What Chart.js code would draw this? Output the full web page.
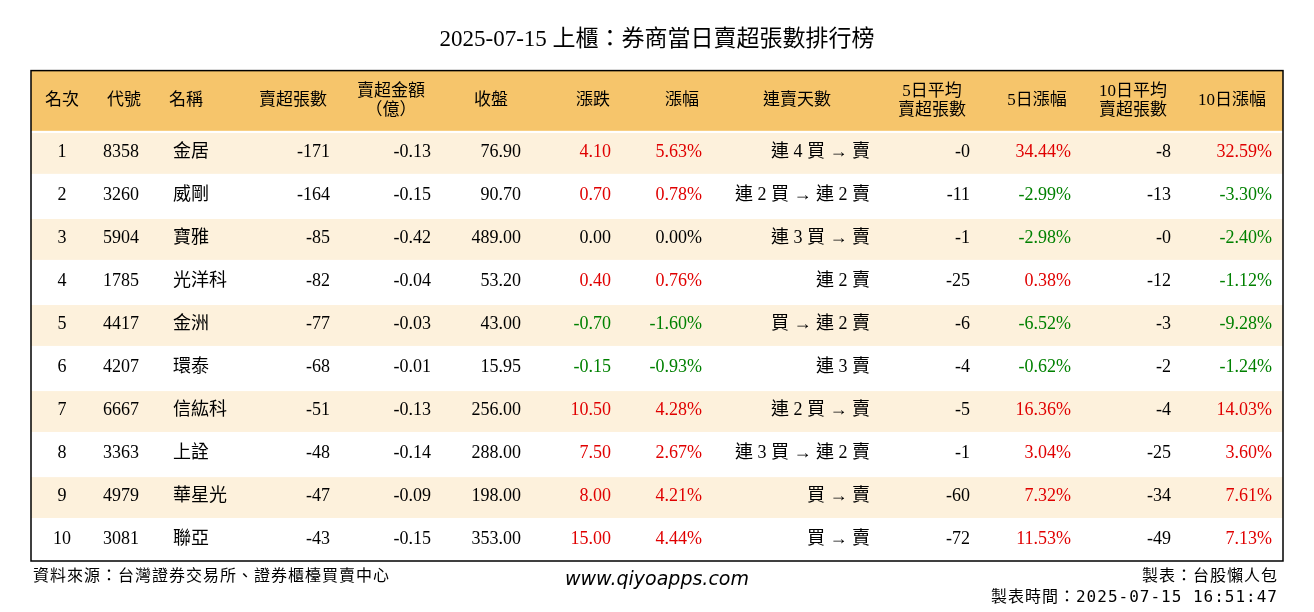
<!DOCTYPE html>
<html><head><meta charset="utf-8">
<script src="https://cdn.jsdelivr.net/npm/chart.js@4"></script>
<style>html,body{margin:0;background:#fff}</style>
</head><body>
<canvas id="c" width="1314" height="612"></canvas>
<script>
const ranks = [1, 2, 3, 4, 5, 6, 7, 8, 9, 10]
const codes = ['8358', '3260', '5904', '1785', '4417', '4207', '6667', '3363', '4979', '3081']
const names = ['金居', '威剛', '寶雅', '光洋科', '金洲', '環泰', '信紘科', '上詮', '華星光', '聯亞']
const netSell = [-171, -164, -85, -82, -77, -68, -51, -48, -47, -43]
const amount = [-0.13, -0.15, -0.42, -0.04, -0.03, -0.01, -0.13, -0.14, -0.09, -0.15]
const closes = [76.90, 90.70, 489.00, 53.20, 43.00, 15.95, 256.00, 288.00, 198.00, 353.00]
const changes = [4.10, 0.70, 0.00, 0.40, -0.70, -0.15, 10.50, 7.50, 8.00, 15.00]
const pcts = [5.63, 0.78, 0.00, 0.76, -1.60, -0.93, 4.28, 2.67, 4.21, 4.44]
const streaks = ['連 4 買 → 賣', '連 2 買 → 連 2 賣', '連 3 買 → 賣', '連 2 賣', '買 → 連 2 賣', '連 3 賣', '連 2 買 → 賣', '連 3 買 → 連 2 賣', '買 → 賣', '買 → 賣']
const avg5 = [-0, -11, -1, -25, -6, -4, -5, -1, -60, -72]
const pct5 = [34.44, -2.99, -2.98, 0.38, -6.52, -0.62, 16.36, 3.04, 7.32, 11.53]
const avg10 = [-8, -13, -0, -12, -3, -2, -4, -25, -34, -49]
const pct10 = [32.59, -3.30, -2.40, -1.12, -9.28, -1.24, 14.03, 3.60, 7.61, 7.13]
const headers = ['名次', '代號', '名稱', '賣超張數', '賣超金額\n（億）', '收盤', '漲跌', '漲幅', '連賣天數', '5日平均\n賣超張數', '5日漲幅', '10日平均\n賣超張數', '10日漲幅']

// column anchors on the x scale (0 = table left edge)
const colX = [31, 72, 142, 299, 400, 490, 580, 671, 839, 939, 1040, 1140, 1241]
const colAlign = ['center', 'left', 'left', 'right', 'right', 'right', 'right', 'right', 'right', 'right', 'right', 'right', 'right']
const headX = [31, 93, 155, 262, 360, 460, 562, 651, 766, 901, 1006, 1102, 1201]

const RED = '#e00000', GREEN = '#008000', BLACK = '#000'
const signColor = v => v > 0 ? RED : (v < 0 ? GREEN : BLACK)
const fmtInt = v => Object.is(v, -0) ? '-0' : String(v)
const FONT = '"Liberation Serif", "Noto Sans CJK TC", serif'
const MONO = '"DejaVu Sans Mono", "Noto Sans CJK TC", monospace'

const tablePlugin = {
    id: 'table',
    beforeDatasetsDraw(chart) {
        const ctx = chart.ctx
        const x = chart.scales.x, y = chart.scales.y
        const L = x.getPixelForValue(0), R = x.getPixelForValue(1252)
        ctx.save()
        ctx.fillStyle = '#f6c56b'
        ctx.fillRect(L, y.getPixelForValue(0), R - L, y.getPixelForValue(1.4) - y.getPixelForValue(0))
        ranks.forEach((r, i) => {
            if (i % 2 == 0) {
                ctx.fillStyle = '#fdf1dc'
                const t = y.getPixelForValue(1.45 + i), b = y.getPixelForValue(2.4 + i)
                ctx.fillRect(L, t, R - L, b - t)
            }
        })
        ctx.strokeStyle = '#000'
        ctx.lineWidth = 1.5
        ctx.strokeRect(L, y.getPixelForValue(0), R - L, y.getPixelForValue(11.4) - y.getPixelForValue(0))

        ctx.textBaseline = 'middle'
        ctx.fillStyle = '#000'
        ctx.font = '17px ' + FONT
        headers.forEach((h, j) => {
            ctx.textAlign = 'center'
            const lines = h.split('\n')
            const cy = y.getPixelForValue(0.7)
            lines.forEach((ln, k) => {
                ctx.fillText(ln, x.getPixelForValue(headX[j]), cy + (k - (lines.length - 1) / 2) * 19)
            })
        })

        ranks.forEach((r, i) => {
            const cy = y.getPixelForValue(1.9 + i)
            const cells = [
                [String(r), BLACK], [codes[i], BLACK], [names[i], BLACK],
                [String(netSell[i]), BLACK], [amount[i].toFixed(2), BLACK], [closes[i].toFixed(2), BLACK],
                [changes[i].toFixed(2), signColor(changes[i])], [pcts[i].toFixed(2) + '%', signColor(pcts[i])],
                [streaks[i], BLACK], [fmtInt(avg5[i]), BLACK], [pct5[i].toFixed(2) + '%', signColor(pct5[i])],
                [fmtInt(avg10[i]), BLACK], [pct10[i].toFixed(2) + '%', signColor(pct10[i])]
            ]
            ctx.font = '18px ' + FONT
            cells.forEach((c, j) => {
                ctx.textAlign = colAlign[j]
                ctx.fillStyle = c[1]
                ctx.fillText(c[0], x.getPixelForValue(colX[j]), cy)
            })
        })

        // footer
        ctx.fillStyle = '#000'
        ctx.letterSpacing = '1px'
        ctx.font = '16px ' + MONO
        ctx.textAlign = 'left'
        ctx.fillText('資料來源：台灣證券交易所、證券櫃檯買賣中心', 33, 577)
        ctx.textAlign = 'right'
        ctx.fillText('製表：台股懶人包', 1278, 577)
        ctx.fillText('製表時間：2025-07-15 16:51:47', 1278, 598)
        ctx.letterSpacing = '0px'
        ctx.textAlign = 'center'
        ctx.font = 'italic 19px "DejaVu Sans", sans-serif'
        ctx.fillText('www.qiyoapps.com', 657, 580)
        ctx.restore()
    }
}

new Chart(document.getElementById('c'), {
    type: 'scatter',
    data: { datasets: [{ data: [] }] },
    options: {
        responsive: false,
        devicePixelRatio: 1,
        animation: false,
        layout: { padding: { left: 31, right: 31, top: 0, bottom: 51 } },
        plugins: {
            legend: { display: false },
            tooltip: { enabled: false },
            title: {
                display: true,
                text: '2025-07-15 上櫃：券商當日賣超張數排行榜',
                color: '#000',
                font: { size: 23, family: FONT, weight: 'normal' },
                padding: { top: 26, bottom: 17 }
            }
        },
        scales: {
            x: { type: 'linear', min: 0, max: 1252, display: false },
            y: { type: 'linear', min: 0, max: 11.4, reverse: true, display: false }
        }
    },
    plugins: [tablePlugin]
})
</script>
</body></html>
